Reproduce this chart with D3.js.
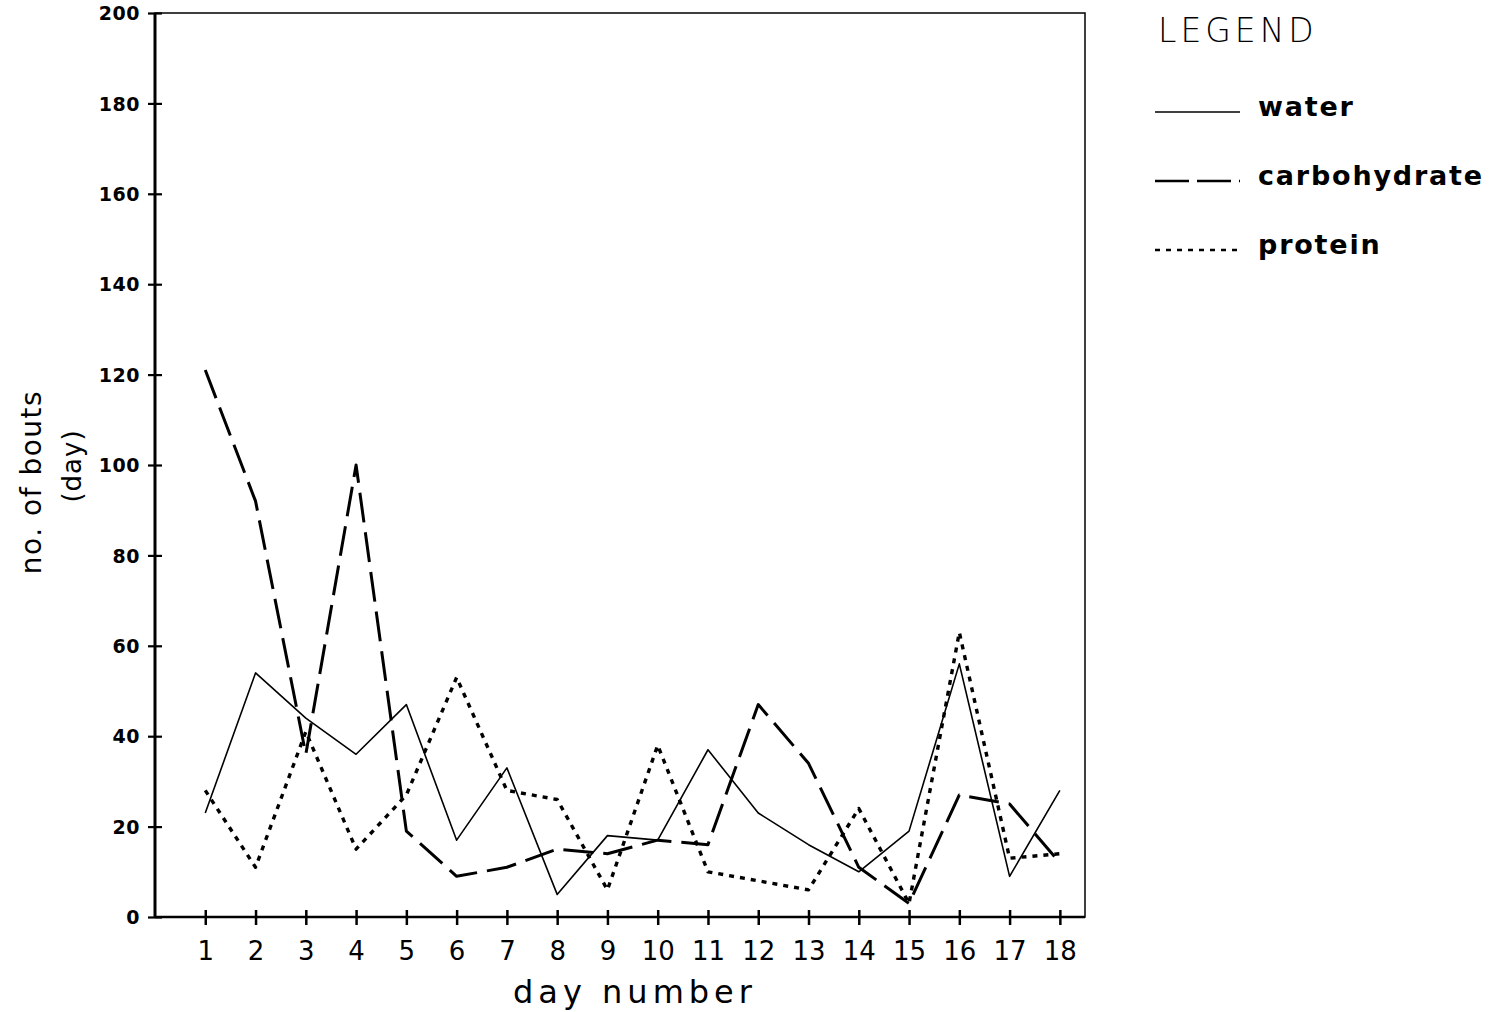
<!DOCTYPE html>
<html>
<head>
<meta charset="utf-8">
<script src="https://cdn.jsdelivr.net/npm/d3@7"></script>
<style>
  body { margin: 0; background: #fff; }
  svg { display: block; }
  text { font-family: "DejaVu Sans", sans-serif; fill: #000; }
</style>
</head>
<body>
<div id="chart"></div>
<script>
const days = [1, 2, 3, 4, 5, 6, 7, 8, 9, 10, 11, 12, 13, 14, 15, 16, 17, 18];
const water = [23, 54, 44, 36, 47, 17, 33, 5, 18, 17, 37, 23, 16, 10, 19, 56, 9, 28];
const carbohydrate = [121, 92, 36, 100, 19, 9, 11, 15, 14, 17, 16, 47, 34, 11, 3, 27, 25, 12];
const protein = [28, 11, 41, 15, 27, 53, 28, 26, 6, 38, 10, 8, 6, 24, 3, 63, 13, 14];
const yTicks = [0, 20, 40, 60, 80, 100, 120, 140, 160, 180, 200];

const seriesNames = ["water", "carbohydrate", "protein"];
const seriesValues = [water, carbohydrate, protein];
const seriesStyle = {
  water: { width: 1.6, dash: null },
  carbohydrate: { width: 3, dash: "30,10" },
  protein: { width: 3.4, dash: "5,6" }
};

const width = 1491, height = 1012;
const plotLeft = 155, plotRight = 1085, plotTop = 13, plotBottom = 917;

const svg = d3.select("#chart")
  .append("svg")
    .attr("width", width)
    .attr("height", height);

const x = d3.scaleLinear().domain([0, 18.5]).range([plotLeft, plotRight]);
const y = d3.scaleLinear().domain([0, 200]).range([plotBottom, plotTop]);

// frame
svg.append("rect")
  .attr("x", plotLeft)
  .attr("y", plotTop)
  .attr("width", plotRight - plotLeft)
  .attr("height", plotBottom - plotTop)
  .attr("fill", "none")
  .attr("stroke", "#000")
  .attr("stroke-width", 1.5);
svg.append("line")
  .attr("x1", plotLeft).attr("x2", plotLeft)
  .attr("y1", plotTop).attr("y2", plotBottom)
  .attr("stroke", "#000").attr("stroke-width", 3);
svg.append("line")
  .attr("x1", plotLeft).attr("x2", plotRight)
  .attr("y1", plotBottom).attr("y2", plotBottom)
  .attr("stroke", "#000").attr("stroke-width", 2.5);

// y axis
const yAxis = svg.append("g")
  .attr("transform", `translate(${plotLeft},0)`)
  .call(d3.axisLeft(y).tickValues(yTicks).tickSize(7).tickPadding(8).tickSizeOuter(0))
  .call(g => g.select(".domain").remove());
yAxis.selectAll(".tick line")
  .attr("x2", -7).attr("x1", 7)
  .attr("stroke-width", 2.2);
yAxis.selectAll(".tick text")
  .attr("font-family", "DejaVu Sans")
  .attr("font-size", 19)
  .attr("font-weight", "bold")
  .attr("letter-spacing", 0.5)
  .attr("dy", "0.35em");

// x axis
const xAxis = svg.append("g")
  .attr("transform", `translate(0,${plotBottom})`)
  .call(d3.axisBottom(x).tickValues(days).tickFormat(d3.format("d")).tickSize(7).tickPadding(18).tickSizeOuter(0))
  .call(g => g.select(".domain").remove());
xAxis.selectAll(".tick line")
  .attr("y1", -7).attr("y2", 8)
  .attr("stroke-width", 2.5);
xAxis.selectAll(".tick text")
  .attr("font-family", "DejaVu Sans")
  .attr("font-size", 26);

// axis titles
svg.append("text")
  .attr("x", 635)
  .attr("y", 1003)
  .attr("text-anchor", "middle")
  .attr("font-size", 32)
  .attr("letter-spacing", 5)
  .text("day number");

svg.append("text")
  .attr("transform", `translate(41,482) rotate(-90)`)
  .attr("text-anchor", "middle")
  .attr("font-size", 28)
  .attr("letter-spacing", 1.5)
  .text("no. of bouts");
svg.append("text")
  .attr("transform", `translate(81,466) rotate(-90)`)
  .attr("text-anchor", "middle")
  .attr("font-size", 26)
  .attr("letter-spacing", 1)
  .text("(day)");

// lines
const line = d3.line()
  .x((d, i) => x(days[i]))
  .y(d => y(d));

seriesNames.forEach((name, k) => {
  svg.append("path")
    .datum(seriesValues[k])
    .attr("d", line)
    .attr("fill", "none")
    .attr("stroke", "#000")
    .attr("stroke-width", seriesStyle[name].width)
    .attr("stroke-dasharray", seriesStyle[name].dash)
    .attr("stroke-linejoin", "round");
});

// legend
svg.append("text")
  .attr("x", 1158)
  .attr("y", 42)
  .attr("font-size", 33)
  .attr("font-weight", 300)
  .attr("letter-spacing", 4)
  .text("LEGEND");

const legendY = d3.scalePoint().domain(seriesNames).range([112, 250]);
const legend = svg.append("g")
  .selectAll("g")
  .data(seriesNames)
  .join("g")
    .attr("transform", d => `translate(0,${legendY(d)})`);
legend.append("line")
  .attr("x1", 1155).attr("x2", 1240)
  .attr("y1", 0).attr("y2", 0)
  .attr("stroke", "#000")
  .attr("stroke-width", d => d === "water" ? 1.6 : 2.6)
  .attr("stroke-dasharray", d => d === "water" ? null : (d === "carbohydrate" ? "34,8" : "5,6"));
legend.append("text")
  .attr("x", 1258)
  .attr("y", 4)
  .attr("font-size", 27)
  .attr("font-weight", "bold")
  .attr("letter-spacing", 1.8)
  .text(d => d);
</script>
</body>
</html>
